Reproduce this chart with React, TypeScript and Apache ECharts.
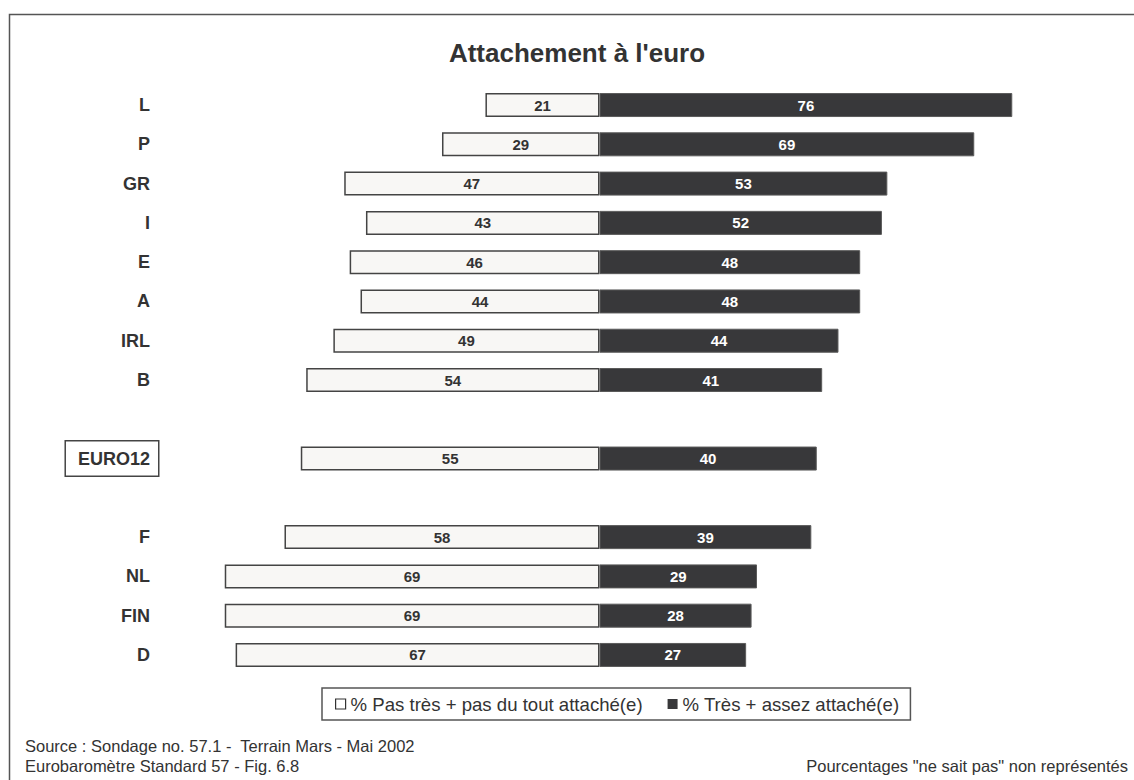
import React, { useEffect, useRef } from "react";
import * as echarts from "echarts";

const categories = ["L", "P", "GR", "I", "E", "A", "IRL", "B", " ", "EURO12", "  ", "F", "NL", "FIN", "D"];
const notAttached = [21, 29, 47, 43, 46, 44, 49, 54, null, 55, null, 58, 69, 69, 67];
const attached = [76, 69, 53, 52, 48, 48, 44, 41, null, 40, null, 39, 29, 28, 27];
const seriesNames = ["% Pas très + pas du tout attaché(e)", "% Très + assez attaché(e)"];
const titleText = "Attachement à l'euro";
const sourceLine1 = "Source : Sondage no. 57.1 -  Terrain Mars - Mai 2002";
const sourceLine2 = "Eurobaromètre Standard 57 - Fig. 6.8";
const noteText = 'Pourcentages "ne sait pas" non représentés';

const FONT = "'Liberation Sans', Arial, Helvetica, sans-serif";
const TEXT = "#333333";

export default function App() {
  const ref = useRef<HTMLDivElement>(null);
  useEffect(() => {
    if (!ref.current) return;
    const chart = echarts.init(ref.current, null, { renderer: "svg" });
    chart.setOption({
      animation: false,
      backgroundColor: "#ffffff",
      textStyle: { fontFamily: FONT },
      title: [
        {
          text: titleText,
          left: 577,
          top: 40,
          textAlign: "center",
          padding: 0,
          textStyle: { fontSize: 26, fontWeight: "bold", color: TEXT, fontFamily: FONT },
        },
        {
          text: sourceLine1,
          left: 25,
          top: 737,
          padding: 0,
          textStyle: { fontSize: 16.5, fontWeight: "normal", color: TEXT, fontFamily: FONT },
        },
        {
          text: sourceLine2,
          left: 25,
          top: 757,
          padding: 0,
          textStyle: { fontSize: 16.5, fontWeight: "normal", color: TEXT, fontFamily: FONT },
        },
        {
          text: noteText,
          right: 6,
          top: 757,
          padding: 0,
          textStyle: { fontSize: 16.5, fontWeight: "normal", color: TEXT, fontFamily: FONT },
        },
      ],
      graphic: [
        {
          type: "rect",
          z: -10,
          shape: { x: 9.5, y: 14.5, width: 1400, height: 900 },
          style: { fill: "none", stroke: "#555555", lineWidth: 1.5 },
        },
      ],
      legend: {
        left: 322,
        top: 688,
        padding: [6, 11, 6, 13],
        itemWidth: 10,
        itemHeight: 10,
        itemGap: 25,
        borderColor: "#555555",
        borderWidth: 1.5,
        backgroundColor: "#ffffff",
        textStyle: { fontSize: 18.6, color: TEXT, fontFamily: FONT, lineHeight: 20 },
        data: [
          { name: seriesNames[0], icon: "rect", itemStyle: { color: "#ffffff", borderColor: "#333333", borderWidth: 1.2 } },
          { name: seriesNames[1], icon: "rect", itemStyle: { color: "#38383a", borderColor: "#38383a", borderWidth: 0 } },
        ],
      },
      grid: { left: 165, right: 100, top: 85.4, bottom: 105.4, containLabel: false },
      xAxis: {
        type: "value",
        min: -80,
        max: 80,
        show: false,
      },
      yAxis: {
        type: "category",
        data: categories,
        inverse: true,
        axisLine: { show: false, onZero: false },
        axisTick: { show: false },
        splitLine: { show: false },
        axisLabel: {
          margin: 7,
          formatter: (v: string) => (v === "EURO12" ? `{box|${v}}` : `{n|${v}}`),
          rich: {
            n: {
              fontSize: 18,
              fontWeight: "bold",
              color: TEXT,
              fontFamily: FONT,
              padding: [0, 8, 0, 0],
            },
            box: {
              fontSize: 18,
              fontWeight: "bold",
              color: TEXT,
              fontFamily: FONT,
              borderColor: "#444444",
              borderWidth: 1.5,
              backgroundColor: "#ffffff",
              padding: [8, 8, 8, 12],
            },
          },
        },
      },
      series: [
        {
          name: seriesNames[0],
          type: "bar",
          barWidth: 24,
          barGap: "-100%",
          data: notAttached.map((v) => (v === null ? "-" : -v)),
          itemStyle: { color: "#f8f7f5", borderColor: "#444444", borderWidth: 1.5 },
          label: {
            show: true,
            position: "inside",
            formatter: (p: any) => String(Math.abs(p.value)),
            fontSize: 15,
            fontWeight: "bold",
            color: TEXT,
            fontFamily: FONT,
          },
        },
        {
          name: seriesNames[1],
          type: "bar",
          barWidth: 24,
          barGap: "-100%",
          data: attached.map((v) => (v === null ? "-" : v)),
          itemStyle: { color: "#38383a", borderColor: "#5a5a5a", borderWidth: 1 },
          label: {
            show: true,
            position: "inside",
            fontSize: 15,
            fontWeight: "bold",
            color: "#ffffff",
            fontFamily: FONT,
          },
        },
      ],
    });
    return () => chart.dispose();
  }, []);
  return (
    <div
      ref={ref}
      style={{ position: "fixed", left: 0, top: 0, width: 1134, height: 780 }}
    />
  );
}
